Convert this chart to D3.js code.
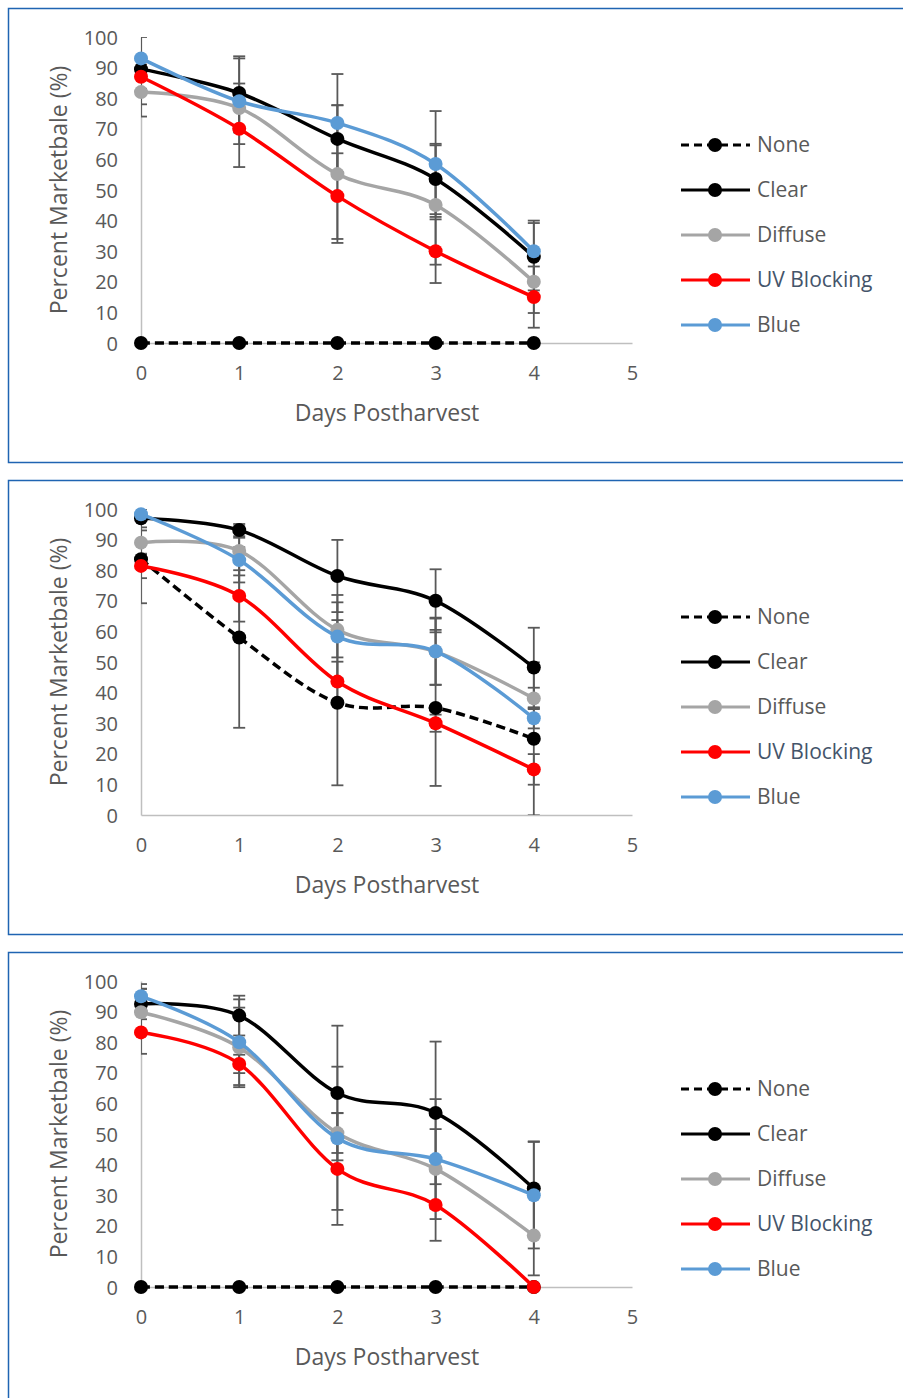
<!DOCTYPE html>
<html>
<head>
<meta charset="utf-8">
<script src="https://cdn.jsdelivr.net/npm/d3@7"></script>
<style>
  body { margin: 0; background: #fff; }
  text { font-family: "Open Sans", "Noto Sans", sans-serif; fill: #595959; }
</style>
</head>
<body>
<svg id="chart" width="903" height="1398"></svg>
<script>
//Data
var days = [0, 1, 2, 3, 4];
var xTicks = [0, 1, 2, 3, 4, 5];
var yTicks = [0, 10, 20, 30, 40, 50, 60, 70, 80, 90, 100];
var seriesNames = ["None", "Clear", "Diffuse", "UV Blocking", "Blue"];

//rows follow seriesNames
var meansTop = [
    [0, 0, 0, 0, 0],
    [89.5, 81.7, 66.7, 53.6, 28.2],
    [82, 76.8, 55.2, 45.1, 20],
    [87, 70, 48, 30, 15],
    [93, 79, 71.9, 58.5, 30]
];
var errTop = [
    [0, 0, 0, 0, 0],
    [11.5, 12, 11, 11.5, 11],
    [8, 8, 22.5, 19.5, 10.2],
    [4, 12.5, 14, 10.4, 10],
    [7, 14, 16, 17.3, 10]
];
var meansMid = [
    [83.6, 58, 36.7, 35, 24.9],
    [97, 93.1, 78.1, 70, 48.2],
    [89, 86.3, 60.5, 53.4, 38.1],
    [81.4, 71.6, 43.6, 30, 14.9],
    [98.3, 83.3, 58.3, 53.5, 31.6]
];
var errMid = [
    [14.4, 29.5, 27, 25.5, 25],
    [3, 2, 11.8, 10.3, 13],
    [4, 8, 9, 10.8, 3.5],
    [4, 8.4, 6.5, 2.8, 5],
    [2, 7.3, 13.6, 11, 3.3]
];
var meansBot = [
    [0, 0, 0, 0, 0],
    [92.5, 88.7, 63.4, 56.9, 32.2],
    [89.8, 78.3, 50.3, 38.6, 16.8],
    [83.2, 72.9, 38.6, 26.8, 0],
    [95, 80, 48.6, 41.8, 30]
];
var errBot = [
    [0, 0, 0, 0, 0],
    [5, 6.5, 22, 23.3, 15.4],
    [7.6, 13, 6.5, 13, 13],
    [7, 3, 18.3, 11.7, 0],
    [4, 14, 23.4, 19.6, 17.4]
];

//styles
var colors = ["#000000", "#000000", "#a5a5a5", "#ff0000", "#5b9bd5"];
var dashes = ["9,5", null, null, null, null];
var labelColors = ["#595959", "#595959", "#595959", "#44546a", "#595959"];

var svg = d3.select("#chart");
var panelTops = [8, 480, 952];
var allMeans = [meansTop, meansMid, meansBot];
var allErrs = [errTop, errMid, errBot];

var x = d3.scaleLinear().domain([0, 5]).range([141, 632]);
var y = d3.scaleLinear().domain([0, 100]).range([335, 29]);

var line = d3.line()
    .x(function(d) { return x(d.day); })
    .y(function(d) { return y(d.v); })
    .curve(d3.curveCatmullRom.alpha(0));

function drawPanel(idx) {
    var top = panelTops[idx];
    var means = allMeans[idx];
    var errs = allErrs[idx];
    var g = svg.append("g").attr("transform", "translate(0," + top + ")");

    //border (right side runs off the page)
    g.append("rect").attr("x", 8.5).attr("y", 0.5).attr("width", 920).attr("height", 454)
        .attr("fill", "none").attr("stroke", "#1f64b2").attr("stroke-width", 1.5);

    g.append("clipPath").attr("id", "clip" + idx).append("rect")
        .attr("x", x(0)).attr("y", y(100)).attr("width", x(5) - x(0)).attr("height", y(0) - y(100));

    //axes
    var yAxis = g.append("g").attr("transform", "translate(" + x(0) + ",0)")
        .call(d3.axisLeft(y).tickValues(yTicks).tickSize(0).tickPadding(23));
    yAxis.select(".domain").attr("stroke", "#bfbfbf").attr("stroke-width", 1.5);
    yAxis.selectAll("text").style("font-size", "20px").attr("fill", "#595959").attr("dy", "0.35em");

    var xAxis = g.append("g").attr("transform", "translate(0," + y(0) + ")")
        .call(d3.axisBottom(x).tickValues(xTicks).tickFormat(d3.format("d")).tickSize(0).tickPadding(23));
    xAxis.select(".domain").attr("stroke", "#bfbfbf").attr("stroke-width", 1.5);
    xAxis.selectAll("text").style("font-size", "20px").attr("fill", "#595959");

    g.append("text").attr("x", 387).attr("y", 413).attr("text-anchor", "middle")
        .style("font-size", "23px").text("Days Postharvest");
    g.append("text").attr("transform", "translate(67,182) rotate(-90)").attr("text-anchor", "middle")
        .style("font-size", "23px").text("Percent Marketbale (%)");

    //error bars
    var eb = g.append("g").attr("clip-path", "url(#clip" + idx + ")")
        .attr("stroke", "#595959").attr("stroke-width", 1.8);
    seriesNames.forEach(function(name, s) {
        days.forEach(function(day, i) {
            var e = errs[s][i];
            if(!e) { return; }
            var hi = means[s][i] + e, lo = means[s][i] - e, cx = x(day);
            eb.append("line").attr("x1", cx).attr("x2", cx).attr("y1", y(hi)).attr("y2", y(lo));
            eb.append("line").attr("x1", cx - 6).attr("x2", cx + 6).attr("y1", y(hi)).attr("y2", y(hi));
            eb.append("line").attr("x1", cx - 6).attr("x2", cx + 6).attr("y1", y(lo)).attr("y2", y(lo));
        });
    });

    //lines and markers
    seriesNames.forEach(function(name, s) {
        var pts = days.map(function(day, i) { return { day: day, v: means[s][i] }; });
        g.append("path").datum(pts).attr("d", line).attr("fill", "none")
            .attr("stroke", colors[s]).attr("stroke-width", 3.5)
            .attr("stroke-dasharray", dashes[s]);
        g.selectAll(".m" + s).data(pts).enter().append("circle")
            .attr("cx", function(d) { return x(d.day); })
            .attr("cy", function(d) { return y(d.v); })
            .attr("r", 7).attr("fill", colors[s]);
    });

    //legend
    seriesNames.forEach(function(name, s) {
        var ly = 137 + s * 45;
        g.append("line").attr("x1", 681).attr("x2", 750).attr("y1", ly).attr("y2", ly)
            .attr("stroke", colors[s]).attr("stroke-width", 3)
            .attr("stroke-dasharray", dashes[s] ? "8,5" : null);
        g.append("circle").attr("cx", 715).attr("cy", ly).attr("r", 7).attr("fill", colors[s]);
        g.append("text").attr("x", 757).attr("y", ly).attr("dy", "0.35em")
            .style("font-size", "21px").style("fill", labelColors[s]).text(name);
    });
}

drawPanel(0);
drawPanel(1);
drawPanel(2);
</script>
</body>
</html>
